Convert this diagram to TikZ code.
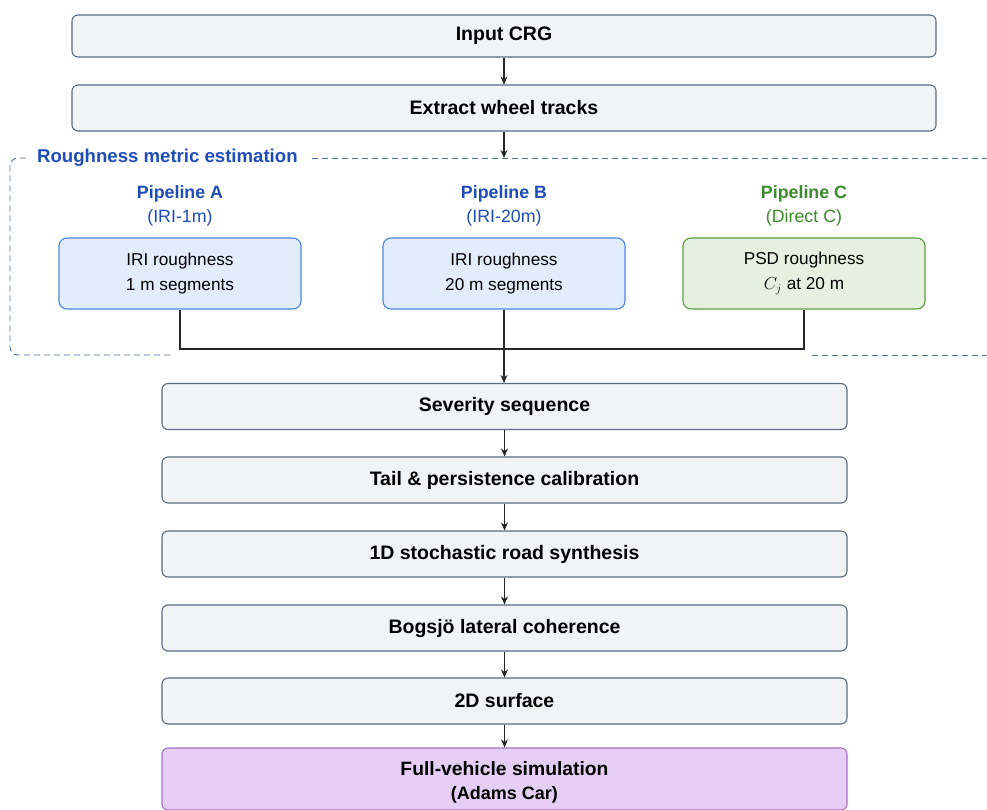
\documentclass[tikz,border=0pt]{standalone}
\usepackage{fontspec}
\setmainfont{Liberation Sans}
\usetikzlibrary{arrows.meta}
\definecolor{grayfill}{HTML}{F2F3F5}
\definecolor{grayline}{HTML}{5C6B7E}
\definecolor{bluefill}{HTML}{E2EDFB}
\definecolor{blueline}{HTML}{4F86E0}
\definecolor{greenfill}{HTML}{E5F1DE}
\definecolor{greenline}{HTML}{5E9E45}
\definecolor{purplefill}{HTML}{E6CDF3}
\definecolor{purpleline}{HTML}{A66FC4}
\definecolor{titleblue}{HTML}{1F4DB8}
\definecolor{titlegreen}{HTML}{3B8A2B}
\definecolor{dashblue}{HTML}{4D6FA3}
\tikzset{
  mainbox/.style={draw=grayline, fill=grayfill, line width=1.1pt, rounded corners=6pt,
    minimum height=46pt, font=\fontsize{19.5}{24}\selectfont\bfseries, align=center, inner sep=0pt},
  pipebox/.style={line width=1.1pt, rounded corners=8pt, minimum width=242pt, minimum height=71pt,
    font=\fontsize{17.2}{25}\selectfont, align=center, inner sep=0pt},
  pipetitle/.style={font=\fontsize{17.8}{24}\selectfont, align=center, inner sep=0pt},
  conn/.style={line width=1.1pt, draw=black!85},
  arr/.style={conn, -{Stealth[length=8pt,width=7pt]}},
  dashframe/.style={dashblue, line width=0.9pt, dash pattern=on 6pt off 4pt},
}
\begin{document}
\begin{tikzpicture}[x=1pt,y=-1pt]
\useasboundingbox (0,0) rectangle (987,810);
\fill[white] (0,0) rectangle (987,810);
% top boxes
\node[mainbox, minimum width=864pt, minimum height=42pt] (crg) at (504,36) {Input CRG};
\node[mainbox, minimum width=864pt, minimum height=46pt] (ext) at (504,108) {Extract wheel tracks};
% group frame
\coordinate (gtop) at (504,158);
\draw[dashframe]
  (170,355) -- (18,355) arc[start angle=90, end angle=180, radius=8] -- (10,166)
  arc[start angle=180, end angle=270, radius=8] -- (30,158);
\draw[dashframe] (312,158) -- (987,158);
\draw[dashframe] (812,355) -- (987,355);
\node[anchor=west, text=titleblue, font=\fontsize{18.6}{22}\selectfont\bfseries, inner sep=0pt] (glabel) at (37,158) {Roughness metric estimation};
% pipelines
\node[pipetitle, text=titleblue] (ta) at (180,205.5) {\textbf{Pipeline A}\\(IRI-1m)};
\node[pipetitle, text=titleblue] (tb) at (504,205.5) {\textbf{Pipeline B}\\(IRI-20m)};
\node[pipetitle, text=titlegreen] (tc) at (804,205.5) {\textbf{Pipeline C}\\(Direct C)};
\node[pipebox, draw=blueline, fill=bluefill] (pa) at (180,273.5) {IRI roughness\\1 m segments};
\node[pipebox, draw=blueline, fill=bluefill] (pb) at (504,273.5) {IRI roughness\\20 m segments};
\node[pipebox, draw=greenline, fill=greenfill] (pc) at (804,273.5) {PSD roughness\\$C_j$ at 20 m};
% lower chain
\node[mainbox, minimum width=685pt] (sev) at (504.5,406.5) {Severity sequence};
\node[mainbox, minimum width=685pt] (tail) at (504.5,480) {Tail \& persistence calibration};
\node[mainbox, minimum width=685pt] (syn) at (504.5,554) {1D stochastic road synthesis};
\node[mainbox, minimum width=685pt] (bog) at (504.5,628) {Bogsjö lateral coherence};
\node[mainbox, minimum width=685pt] (sur) at (504.5,701) {2D surface};
\node[mainbox, minimum width=685pt, minimum height=62pt, draw=purpleline, fill=purplefill] (sim) at (504.5,779) {};
\node[font=\fontsize{19.3}{24}\selectfont\bfseries, align=center, inner sep=0pt] (simtext) at (504.5,782) {Full-vehicle simulation\\{\fontsize{18}{20}\selectfont (Adams Car)}};
% connectors
\coordinate (j) at (504,349);
\draw[arr] (crg) -- (ext);
\draw[arr] (ext.south) -- (gtop);
\draw[conn] (pa.south) |- (j);
\draw[conn] (pc.south) |- (j);
\draw[arr] (pb.south) -- (sev.north -| pb.south);
\draw[arr] (sev) -- (tail);
\draw[arr] (tail) -- (syn);
\draw[arr] (syn) -- (bog);
\draw[arr] (bog) -- (sur);
\draw[arr] (sur) -- (sim);
\end{tikzpicture}
\end{document}
